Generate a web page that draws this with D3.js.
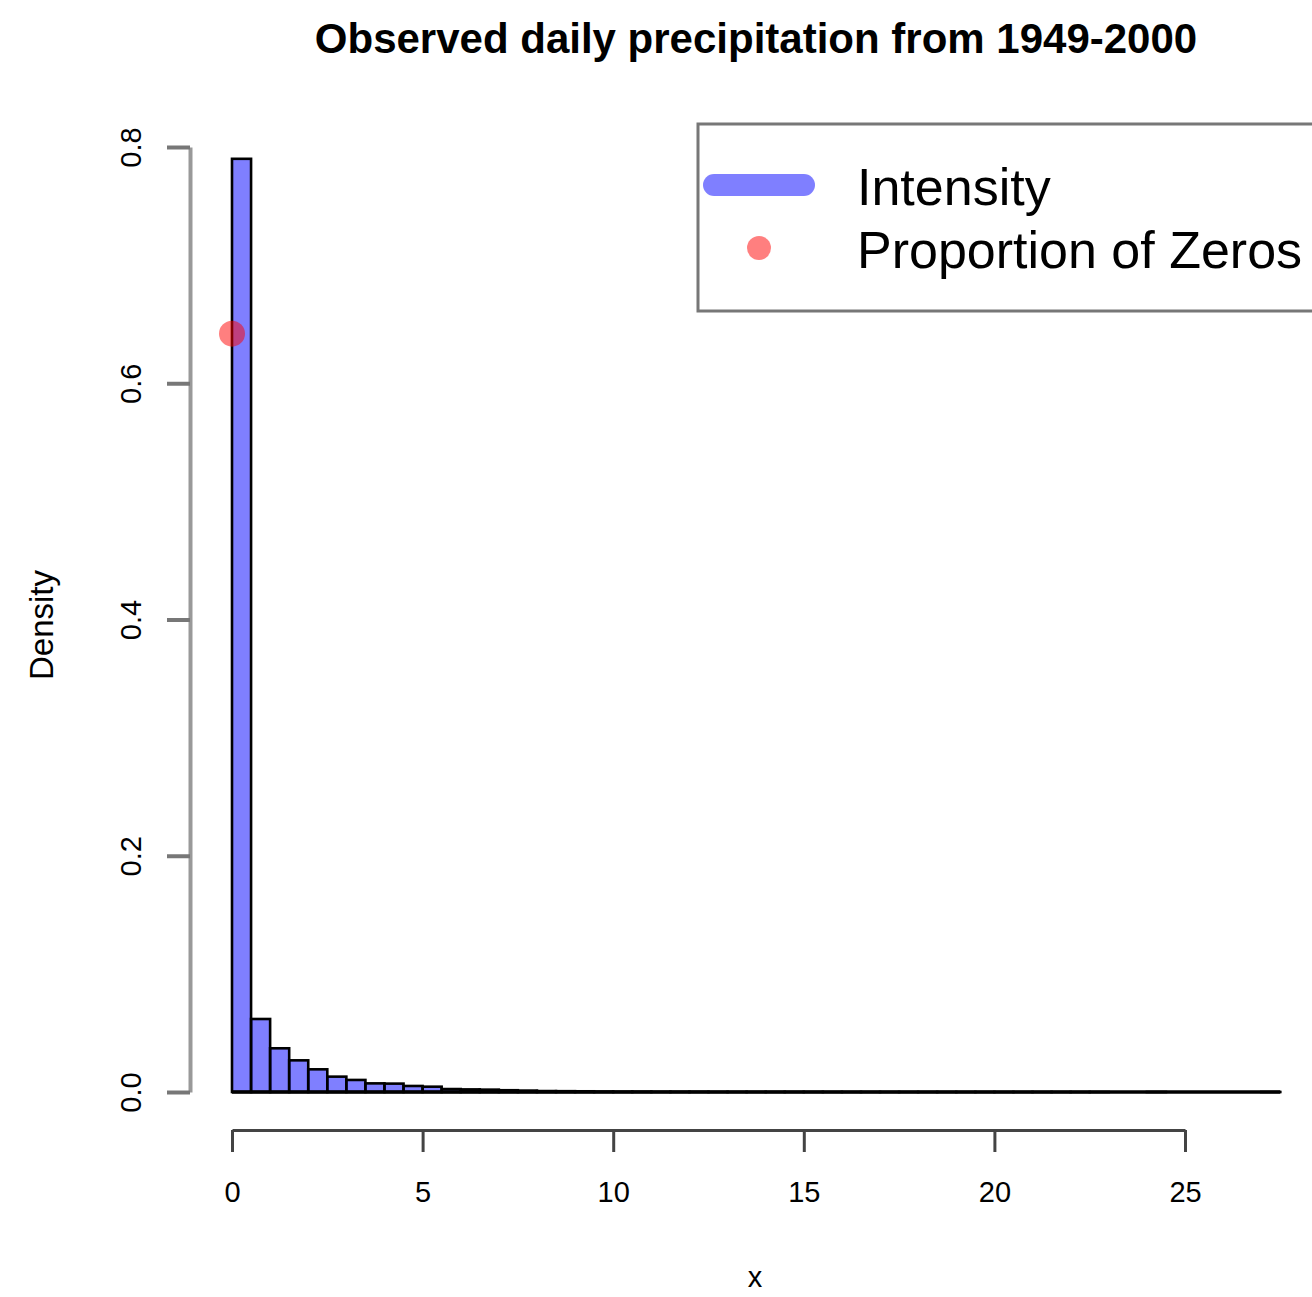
<!DOCTYPE html>
<html>
<head>
<meta charset="utf-8">
<script src="https://cdn.jsdelivr.net/npm/d3@7"></script>
<style>
  html, body { margin: 0; padding: 0; background: #fff; }
  svg { display: block; font-family: "Liberation Sans", Arial, Helvetica, sans-serif; }
</style>
</head>
<body>
<script>
// histogram of observed daily precipitation, bins of width 0.5
const binWidth = 0.5;
const binStarts = d3.range(0, 27.5, binWidth);
const densities = [
  0.790, 0.0618, 0.0370, 0.0268, 0.0192, 0.0130, 0.0102, 0.0073, 0.0071, 0.0051,
  0.0045, 0.0025, 0.0022, 0.0020, 0.0015, 0.0012, 0.0008, 0.0007, 0.0006, 0.0004,
  0.0003, 0.0003, 0.0002, 0.0002, 0.0002, 0.0001, 0.0001, 0.0001, 0.0001, 0.0001,
  0.0001, 0.00005, 0.00005, 0.00005, 0.00005, 0.00003, 0.00003, 0.00003, 0.00002, 0.00002,
  0.00002, 0.00001, 0.00001, 0.00001, 0.00001, 0.00001, 0, 0, 0.00001, 0,
  0, 0, 0, 0, 0.00001
];
const zeroProportion = 0.642;

const xTicks = [0, 5, 10, 15, 20, 25];
const yTicks = [0, 0.2, 0.4, 0.6, 0.8];
const legendLabels = ["Intensity", "Proportion of Zeros"];

const W = 1312, H = 1297;

const svg = d3.select("body").append("svg")
  .attr("width", W)
  .attr("height", H);

const x = d3.scaleLinear().domain([0, 25]).range([232, 1185]);
const y = d3.scaleLinear().domain([0, 0.8]).range([1092, 147]);

const bins = binStarts.map((s, i) => ({ x0: s, x1: s + binWidth, d: densities[i] }));

// bars (empty bins collapse to a line along the base, like R's hist)
svg.append("g").selectAll("rect")
  .data(bins)
  .enter().append("rect")
  .attr("x", d => x(d.x0))
  .attr("y", d => y(d.d))
  .attr("width", d => x(d.x1) - x(d.x0))
  .attr("height", d => y(0) - y(d.d))
  .attr("fill", "rgba(0,0,255,0.5)")
  .attr("stroke", "#000")
  .attr("stroke-width", 2.6);

svg.append("line")
  .attr("x1", x(bins[0].x0))
  .attr("x2", x(bins[bins.length - 1].x1))
  .attr("y1", y(0)).attr("y2", y(0))
  .attr("stroke", "#000")
  .attr("stroke-width", 3.5);

// proportion of zeros
svg.append("circle")
  .attr("cx", x(0))
  .attr("cy", y(zeroProportion))
  .attr("r", 13)
  .attr("fill", "rgba(255,0,0,0.5)");

// y axis
const yAxis = svg.append("g")
  .attr("transform", "translate(190,0)")
  .call(d3.axisLeft(y).tickValues(yTicks).tickSize(23).tickSizeOuter(0).tickFormat(d3.format(".1f")));
yAxis.select(".domain").attr("stroke", "#999").attr("stroke-width", 4);
yAxis.selectAll(".tick line").attr("stroke", "#777").attr("stroke-width", 4);
yAxis.selectAll(".tick text")
  .attr("x", null).attr("dy", null)
  .attr("transform", "translate(-49,0) rotate(-90)")
  .attr("text-anchor", "middle")
  .attr("fill", "#000")
  .style("font-size", "29px");

// x axis
const xAxis = svg.append("g")
  .attr("transform", "translate(0,1130)")
  .call(d3.axisBottom(x).tickValues(xTicks).tickSize(22).tickSizeOuter(0));
xAxis.select(".domain").attr("stroke", "#444").attr("stroke-width", 3);
xAxis.selectAll(".tick line").attr("stroke", "#444").attr("stroke-width", 3);
xAxis.selectAll(".tick text")
  .attr("y", 72).attr("dy", null)
  .attr("fill", "#000")
  .style("font-size", "29px");

// title and axis labels
svg.append("text")
  .attr("x", 756).attr("y", 53)
  .attr("text-anchor", "middle")
  .style("font-size", "42px")
  .style("font-weight", "bold")
  .text("Observed daily precipitation from 1949-2000");

svg.append("text")
  .attr("x", 755).attr("y", 1287)
  .attr("text-anchor", "middle")
  .style("font-size", "29px")
  .text("x");

svg.append("text")
  .attr("transform", "translate(53,625) rotate(-90)")
  .attr("text-anchor", "middle")
  .style("font-size", "33px")
  .text("Density");

// legend
const lg = svg.append("g");
lg.append("rect")
  .attr("x", 698).attr("y", 124)
  .attr("width", 700).attr("height", 187)
  .attr("fill", "none")
  .attr("stroke", "#777")
  .attr("stroke-width", 3);
lg.append("line")
  .attr("x1", 714).attr("x2", 804)
  .attr("y1", 185).attr("y2", 185)
  .attr("stroke", "rgba(0,0,255,0.5)")
  .attr("stroke-width", 22)
  .attr("stroke-linecap", "round");
lg.append("circle")
  .attr("cx", 759).attr("cy", 248)
  .attr("r", 12)
  .attr("fill", "rgba(255,0,0,0.5)");
lg.selectAll("text.leg")
  .data(legendLabels)
  .enter().append("text")
  .attr("class", "leg")
  .attr("x", 857)
  .attr("y", (d, i) => 205 + i * 63)
  .style("font-size", "52px")
  .text(d => d);
</script>
</body>
</html>
